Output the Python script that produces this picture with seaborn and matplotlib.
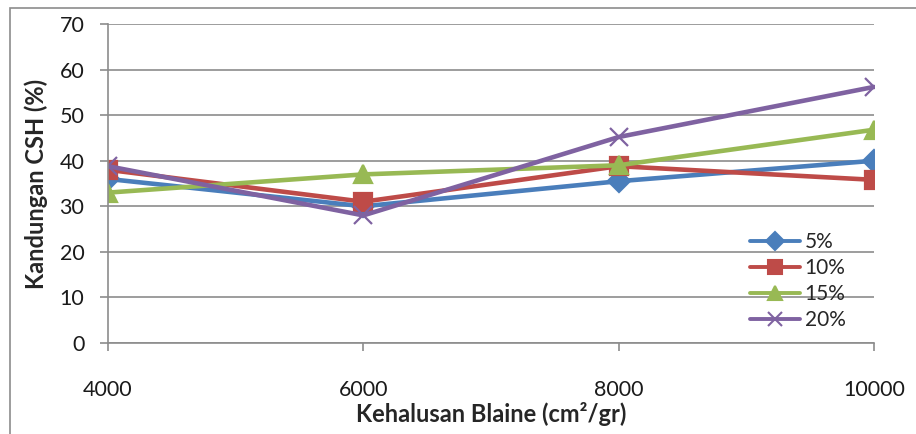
import matplotlib
matplotlib.use("Agg")
import matplotlib.pyplot as plt
import seaborn as sns
import pandas as pd
from matplotlib.patches import Rectangle
from matplotlib.lines import Line2D

# Blaine fineness (cm²/gr) and CSH content (%) per replacement level
blaine = [4000, 6000, 8000, 10000]
csh_5 = [36, 30, 35.5, 40]
csh_10 = [38, 31, 38.8, 35.8]
csh_15 = [33, 37, 39, 46.8]
csh_20 = [38.8, 28, 45.2, 56.2]
series_names = ["5%", "10%", "15%", "20%"]
y_ticks = [0, 10, 20, 30, 40, 50, 60, 70]
x_ticks = [4000, 6000, 8000, 10000]

sns.set_style("white")
plt.rcParams["font.family"] = ["Lato", "DejaVu Sans"]

palette = {"5%": "#4a7ebb", "10%": "#be4b48", "15%": "#98b954", "20%": "#7f62a1"}
markers = {"5%": "D", "10%": "s", "15%": "^", "20%": "x"}
msizes = {"5%": 11.5, "10%": 13.5, "15%": 13.5, "20%": 13}

fig = plt.figure(figsize=(9.16, 4.34), dpi=100)
ax = fig.add_axes([108 / 916, 1 - 343 / 434, (874 - 108) / 916, (343 - 24) / 434])

for name, vals in zip(series_names, [csh_5, csh_10, csh_15, csh_20]):
    d = pd.DataFrame({"Blaine": blaine, "CSH": vals})
    c = palette[name]
    sns.lineplot(data=d, x="Blaine", y="CSH", color=c, marker=markers[name],
                 markersize=msizes[name], markeredgewidth=1.6,
                 markerfacecolor=c, markeredgecolor=c, lw=3.3, ax=ax)

ax.set_xlim(4000, 10000)
ax.set_ylim(0, 70)
ax.set_xticks(x_ticks)
ax.set_yticks(y_ticks)
ax.yaxis.grid(True, color="#8c8c8c", lw=1.2)
ax.set_axisbelow(True)
for s in ["top", "right"]:
    ax.spines[s].set_visible(False)
for s in ["left", "bottom"]:
    ax.spines[s].set_color("#8c8c8c")
    ax.spines[s].set_linewidth(1.2)
ax.tick_params(axis="y", length=6, width=1.2, color="#8c8c8c", pad=11,
               labelsize=15.5, labelcolor="#1a1a1a", left=True)
ax.tick_params(axis="x", length=6, width=1.2, color="#8c8c8c", pad=21,
               labelsize=15.5, labelcolor="#1a1a1a", bottom=True)

ax.set_xlabel("Kehalusan Blaine (cm²/gr)", fontsize=17,
              fontweight="bold", labelpad=1)
ax.set_ylabel("Kandungan CSH (%)", fontsize=17, fontweight="bold", labelpad=8)

handles = [Line2D([0], [0], color=palette[n], marker=markers[n], lw=2.8,
                  markersize=9 if n == "5%" else 10,
                  markeredgewidth=1.5, markerfacecolor=palette[n],
                  markeredgecolor=palette[n]) for n in series_names]
ax.legend(handles, series_names, loc="upper left",
          bbox_to_anchor=((742 - 108) / 766, (343 - 224) / 319),
          frameon=False, fontsize=15, handlelength=2.4, handletextpad=0.2,
          labelspacing=0.28, borderaxespad=0)

# chart frame
fig.patches.append(Rectangle((10 / 916, -0.2), 1.2, 1.2 - 8 / 434,
                             transform=fig.transFigure, fill=False,
                             edgecolor="#8c8c8c", lw=1.2))

fig.savefig("out.png", dpi=100)
